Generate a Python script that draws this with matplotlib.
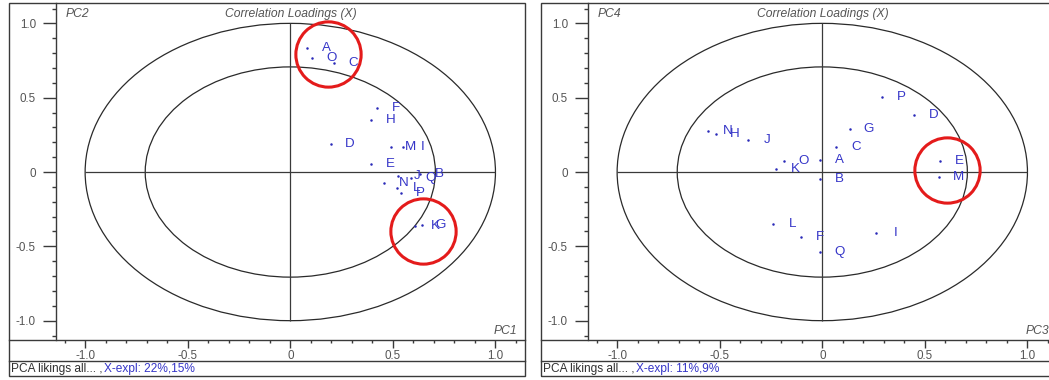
import numpy as np
import matplotlib
matplotlib.use("Agg")
import matplotlib.pyplot as plt
from matplotlib.patches import Circle, Rectangle
from matplotlib.lines import Line2D
from matplotlib.ticker import MultipleLocator, FixedLocator

plt.rcParams['font.family'] = ['Liberation Sans', 'DejaVu Sans']

# ---- data -------------------------------------------------------------
variables = list("ABCDEFGHIJKLMNOPQ")

# PC1 / PC2 correlation loadings
pc1 = [0.080, 0.634, 0.211, 0.197, 0.392, 0.421, 0.640, 0.393, 0.548,
       0.525, 0.610, 0.520, 0.491, 0.457, 0.104, 0.539, 0.588]
pc2 = [0.832, -0.013, 0.736, 0.186, 0.052, 0.428, -0.355, 0.350, 0.170,
       -0.025, -0.360, -0.110, 0.170, -0.076, 0.765, -0.139, -0.042]

# PC3 / PC4 correlation loadings
pc3 = [-0.013, -0.010, 0.068, 0.447, 0.573, -0.104, 0.133, -0.520, 0.262,
       -0.363, -0.224, -0.240, 0.570, -0.556, -0.185, 0.290, -0.013]
pc4 = [0.078, -0.049, 0.170, 0.386, 0.074, -0.440, 0.287, 0.258, -0.413,
       0.215, 0.018, -0.352, -0.031, 0.276, 0.072, 0.507, -0.540]

# highlighted groups (circle centres in loading units)
hl12_x = [0.185, 0.648]
hl12_y = [0.791, -0.395]
hl34_x = [0.610]
hl34_y = [0.011]

expl12 = "X-expl: 22%,15%"
expl34 = "X-expl: 11%,9%"
status = "PCA likings all... ,"
title = "Correlation Loadings (X)"

# ---- figure -------------------------------------------------------------
W, H = 1049, 380
fig = plt.figure(figsize=(W / 100, H / 100), dpi=100)

FRAME = "#3a3a3a"
TXT = "#555555"
BLUE = "#3535c8"
DOT = "#2a2ab8"


def fx(x):
    return x / W


def fy(y):
    return 1 - y / H


def panel(x0, xs, ys, hx, hy, xname, yname, expl):
    """Draw one loading-plot window whose frame starts at pixel x0."""
    left, right = x0, x0 + 516
    top, base, sbar, bottom = 3, 340, 361, 376
    axl = x0 + 47

    # window frame and separators
    fig.add_artist(Rectangle((fx(left), fy(bottom)), fx(right - left),
                             (bottom - top) / H, fill=False, ec=FRAME, lw=1.0,
                             transform=fig.transFigure))
    for yy in (base, sbar):
        fig.add_artist(Line2D([fx(left), fx(right)], [fy(yy), fy(yy)],
                              color=FRAME, lw=1.0, transform=fig.transFigure))

    ax = fig.add_axes([fx(axl), fy(base), fx(right - axl), (base - top) / H])
    ax.set_xlim(-1.142, 1.144)
    ax.set_ylim(-1.130, 1.137)
    for s in ("top", "right", "bottom"):
        ax.spines[s].set_visible(False)
    ax.spines["left"].set_color(FRAME)
    ax.spines["left"].set_linewidth(1.0)
    ax.patch.set_alpha(0)

    ticks = [-1, -0.5, 0, 0.5, 1]
    fmt = lambda v: "0" if abs(v) < 1e-9 else f"{v:.1f}"
    ax.set_xticks(ticks)
    ax.set_xticklabels([fmt(v) for v in ticks])
    ax.set_yticks(ticks)
    ax.set_yticklabels([fmt(v) for v in ticks])
    ax.xaxis.set_minor_locator(MultipleLocator(0.1))
    ax.yaxis.set_minor_locator(MultipleLocator(0.1))
    ax.tick_params(axis="y", which="major", direction="out", length=9.5,
                   width=1.0, color=FRAME, labelsize=8.4, labelcolor=TXT, pad=5)
    ax.tick_params(axis="y", which="minor", direction="out", length=3,
                   width=1.0, color=FRAME)
    ax.tick_params(axis="x", which="major", direction="out", length=6,
                   width=1.0, color=FRAME, labelsize=8.4, labelcolor=TXT, pad=1)
    ax.tick_params(axis="x", which="minor", direction="out", length=2.5,
                   width=1.0, color=FRAME)

    # correlation circles (100% and 50% explained variance)
    for r in (1.0, np.sqrt(0.5)):
        ax.add_patch(Circle((0, 0), r, fill=False, ec="#2a2a2a", lw=0.9))
    ax.hlines(0, -1, 1, color=FRAME, lw=0.9)
    ax.vlines(0, -1, 1, color=FRAME, lw=0.9)

    ax.plot(xs, ys, ls="none", marker="o", ms=1.8, color=DOT, mew=0)
    for name, x, y in zip(variables, xs, ys):
        ax.annotate(name, (x, y), xytext=(14, 0), textcoords="offset points",
                    ha="center", va="center", fontsize=9.6, color=BLUE)

    ax.plot(hx, hy, ls="none", marker="o", ms=47, mfc="none", mec="#e41b1b",
            mew=2.2)

    # window texts
    cx = (axl + right) / 2
    fig.text(fx(cx), fy(14), title, ha="center", va="center", fontsize=8.7,
             style="italic", color=TXT)
    fig.text(fx(axl + 10), fy(14), yname, ha="left", va="center",
             fontsize=8.7, style="italic", color=TXT)
    fig.text(fx(right - 8), fy(331), xname, ha="right", va="center",
             fontsize=8.7, style="italic", color=TXT)
    t = fig.text(fx(left + 2), fy(369), status, ha="left", va="center",
                 fontsize=8.6, color="#303030")
    fig.canvas.draw()
    bb = t.get_window_extent()
    fig.text(bb.x1 / W + 2 / W, fy(369), expl, ha="left", va="center",
             fontsize=8.6, color=BLUE)
    return ax


panel(9, pc1, pc2, hl12_x, hl12_y, "PC1", "PC2", expl12)
panel(541, pc3, pc4, hl34_x, hl34_y, "PC3", "PC4", expl34)

fig.savefig("out.png", dpi=100)
